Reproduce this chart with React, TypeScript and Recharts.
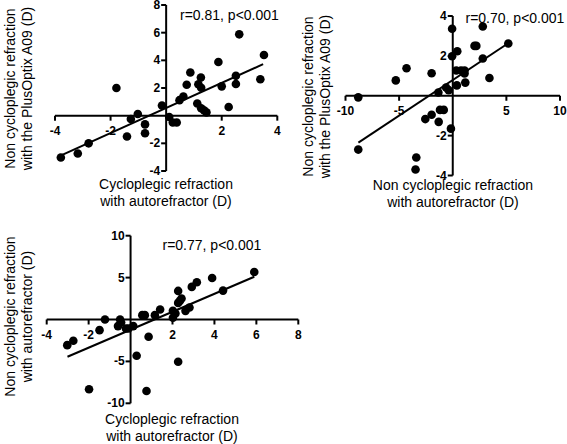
import React from "react";
import { ScatterChart, Scatter, XAxis, YAxis, ReferenceLine, ReferenceDot } from "recharts";

// Panel 1: Cycloplegic (autorefractor) vs non-cycloplegic PlusOptix
const p1X = [-3.79, -3.18, -2.79, -1.79, -1.41, -1.27, -1.02, -0.76, -0.76, -0.15, 0.11, 0.24, 0.38, 0.48, 0.62, 0.74, 0.87, 1.12, 1.16, 1.25, 1.26, 1.26, 1.36, 1.45, 1.88, 2.0, 2.25, 2.51, 2.51, 2.63, 3.39, 3.52];
const p1Y = [-3.02, -2.73, -2.0, 2.0, -1.51, -0.24, 0.12, -0.63, -1.27, 0.73, -0.1, -0.49, -0.49, 1.12, 1.39, 2.24, 3.12, 0.88, 2.27, 2.76, 2.02, 0.54, 0.39, 0.24, 3.88, 2.12, 0.63, 2.88, 2.29, 5.88, 2.63, 4.39];
const p1Fit = [{ x: -3.74, y: -2.84 }, { x: 3.49, y: 3.72 }];
const p1XTicks = [-4, -2, 0, 2, 4];
const p1YTicks = [-4, -2, 0, 2, 4, 6, 8];

// Panel 2: Non-cycloplegic autorefractor vs PlusOptix
const p2X = [-8.81, -8.81, -5.31, -4.31, -3.4, -3.47, -2.56, -1.97, -1.97, -1.34, -1.31, -1.19, -0.84, -0.62, -0.38, -0.17, -0.06, -0.06, 0.42, 0.38, 0.33, 0.77, 1.1, 1.1, 1.17, 2.03, 2.2, 2.8, 2.8, 3.42, 5.18];
const p2Y = [-0.08, -2.7, 0.77, 1.38, -3.1, -3.7, -1.17, 1.13, -0.95, 0.16, -1.31, -0.71, -0.71, 0.41, 0.28, -1.65, 3.36, 1.98, 2.23, 0.52, 1.27, 1.27, 1.27, 1.12, 0.66, 2.5, 2.5, 1.87, 3.47, 0.89, 2.62];
const p2Fit = [{ x: -8.8, y: -2.35 }, { x: 5.1, y: 2.61 }];
const p2XTicks = [-10, -5, 0, 5, 10];
const p2YTicks = [-4, -2, 0, 2, 4];

// Panel 3: Cycloplegic vs non-cycloplegic autorefractor
const p3X = [-3.02, -2.73, -1.98, -1.48, -1.22, -0.6, -0.5, -0.45, -0.22, -0.1, 0.13, 0.29, 0.56, 0.68, 0.86, 0.76, 1.16, 1.41, 2.02, 2.02, 2.14, 2.27, 2.27, 2.35, 2.43, 2.27, 2.62, 2.81, 2.92, 3.16, 3.89, 4.41, 5.9];
const p3Y = [-3.06, -2.54, -8.33, -1.27, 0.0, -0.79, 0.0, -0.35, -1.07, -1.07, -0.79, -4.33, 0.52, 0.52, -2.06, -8.53, 0.52, 1.19, 1.03, 0.2, 0.71, 3.41, 1.98, 2.22, 2.5, -5.04, 1.03, 1.43, 3.89, 4.44, 4.96, 3.45, 5.67];
const p3Fit = [{ x: -3.01, y: -4.44 }, { x: 5.9, y: 5.1 }];
const p3XTicks = [-4, -2, 0, 2, 4, 6, 8];
const p3YTicks = [-10, -5, 0, 5, 10];

const FONT = "'Liberation Sans', Arial, Helvetica, sans-serif";
const W = 567;
const H = 444;

const zip = (xs: number[], ys: number[]) => xs.map((x, i) => ({ x, y: ys[i] }));

const Dot = (props: any) => <circle cx={props.cx} cy={props.cy} r={4.3} fill="#000" />;

const xTickShape = (label: string) => (props: any) => (
  <g>
    <line x1={props.cx} y1={props.cy} x2={props.cx} y2={props.cy + 5} stroke="#000" strokeWidth={2} />
    <text x={props.cx} y={props.cy + 15} textAnchor="middle" dominantBaseline="central" fontFamily={FONT} fontWeight="bold" fontSize={12} fill="#000">
      {label}
    </text>
  </g>
);

const yTickShape = (label: string) => (props: any) => (
  <g>
    <line x1={props.cx - 5} y1={props.cy} x2={props.cx} y2={props.cy} stroke="#000" strokeWidth={2} />
    <text x={props.cx - 6} y={props.cy} textAnchor="end" dominantBaseline="central" fontFamily={FONT} fontWeight="bold" fontSize={12} fill="#000">
      {label}
    </text>
  </g>
);

type PanelProps = {
  xs: number[];
  ys: number[];
  fit: { x: number; y: number }[];
  xTicks: number[];
  yTicks: number[];
  plot: { left: number; right: number; top: number; bottom: number };
};

function Panel({ xs, ys, fit, xTicks, yTicks, plot }: PanelProps) {
  const data = zip(xs, ys);
  const xd: [number, number] = [xTicks[0], xTicks[xTicks.length - 1]];
  const yd: [number, number] = [yTicks[0], yTicks[yTicks.length - 1]];
  return (
    <div style={{ position: "absolute", left: 0, top: 0 }}>
      <ScatterChart
        width={W}
        height={H}
        margin={{ left: plot.left, top: plot.top, right: W - plot.right, bottom: H - plot.bottom }}
      >
        <XAxis type="number" dataKey="x" domain={xd} hide allowDataOverflow />
        <YAxis type="number" dataKey="y" domain={yd} hide allowDataOverflow />
        <ReferenceLine x={0} stroke="#000" strokeWidth={2} ifOverflow="visible" />
        <ReferenceLine y={0} stroke="#000" strokeWidth={2} ifOverflow="visible" />
        {xTicks.filter((t) => t !== 0).map((t) => (
          <ReferenceDot key={"xt" + t} x={t} y={0} ifOverflow="visible" shape={xTickShape(String(t))} />
        ))}
        {yTicks.filter((t) => t !== 0).map((t) => (
          <ReferenceDot key={"yt" + t} x={0} y={t} ifOverflow="visible" shape={yTickShape(String(t))} />
        ))}
        <ReferenceLine segment={fit} stroke="#000" strokeWidth={2} ifOverflow="visible" />
        <Scatter data={data} shape={Dot} isAnimationActive={false} />
      </ScatterChart>
    </div>
  );
}

const textStyle: React.CSSProperties = {
  position: "absolute",
  fontFamily: FONT,
  fontSize: 14,
  color: "#000",
  whiteSpace: "nowrap",
  lineHeight: "16.5px",
};

function XTitle({ cx, top, lines }: { cx: number; top: number; lines: string[] }) {
  return (
    <div style={{ ...textStyle, left: cx - 100, width: 200, top, textAlign: "center" }}>
      {lines.map((l) => (
        <div key={l}>{l}</div>
      ))}
    </div>
  );
}

function YTitle({ cx, cy, lines }: { cx: number; cy: number; lines: string[] }) {
  const w = 220;
  const h = 33;
  return (
    <div
      style={{
        ...textStyle,
        left: cx - w / 2,
        top: cy - h / 2,
        width: w,
        height: h,
        textAlign: "center",
        transform: "rotate(-90deg)",
      }}
    >
      {lines.map((l) => (
        <div key={l}>{l}</div>
      ))}
    </div>
  );
}

function Note({ left, cy, text }: { left: number; cy: number; text: string }) {
  return <div style={{ ...textStyle, left, top: cy - 8 }}>{text}</div>;
}

export default function App() {
  return (
    <div style={{ position: "absolute", left: 0, top: 0, width: W, height: H, background: "#fff", overflow: "hidden" }}>
      <Panel xs={p1X} ys={p1Y} fit={p1Fit} xTicks={p1XTicks} yTicks={p1YTicks} plot={{ left: 55, right: 277.3, top: 5, bottom: 171 }} />
      <Panel xs={p2X} ys={p2Y} fit={p2Fit} xTicks={p2XTicks} yTicks={p2YTicks} plot={{ left: 345.5, right: 560, top: 16, bottom: 175.5 }} />
      <Panel xs={p3X} ys={p3Y} fit={p3Fit} xTicks={p3XTicks} yTicks={p3YTicks} plot={{ left: 46.7, right: 298.3, top: 235.7, bottom: 403.3 }} />

      <Note left={180} cy={15} text="r=0.81, p<0.001" />
      <Note left={465.5} cy={18} text="r=0.70, p<0.001" />
      <Note left={162.5} cy={245} text="r=0.77, p<0.001" />

      <XTitle cx={166} top={176} lines={["Cycloplegic refraction", "with autorefractor (D)"]} />
      <XTitle cx={453} top={177} lines={["Non cycloplegic refraction", "with autorefractor (D)"]} />
      <XTitle cx={172} top={411} lines={["Cycloplegic refraction", "with autorefractor (D)"]} />

      <YTitle cx={18} cy={88} lines={["Non cycloplegic refraction", "with the PlusOptix A09 (D)"]} />
      <YTitle cx={316} cy={96} lines={["Non cycloplegic refraction", "with the PlusOptix A09 (D)"]} />
      <YTitle cx={18} cy={316} lines={["Non cycloplegic refraction", "with autorefractor (D)"]} />
    </div>
  );
}
